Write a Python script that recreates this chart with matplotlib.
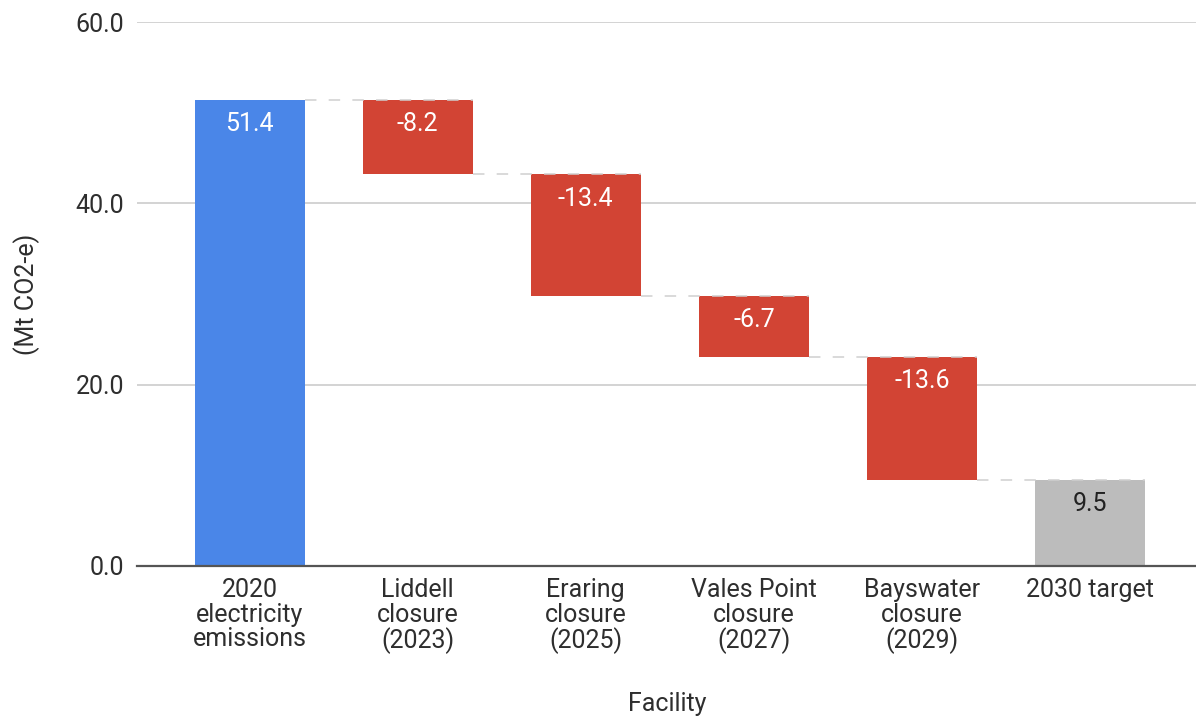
import numpy as np
import matplotlib
matplotlib.use("Agg")
from matplotlib import pyplot as plt

# data
categories = [
    "2020\nelectricity\nemissions",
    "Liddell\nclosure\n(2023)",
    "Eraring\nclosure\n(2025)",
    "Vales Point\nclosure\n(2027)",
    "Bayswater\nclosure\n(2029)",
    "2030 target",
]
start_value = 51.4
changes = [-8.2, -13.4, -6.7, -13.6]
target_value = 9.5

plt.rcParams["font.family"] = ["Roboto", "DejaVu Sans"]

BLUE = "#4a86e8"
RED = "#d24434"
GREY = "#bcbcbc"
TEXT = "#2e2e2e"

# running totals for the floating bars
levels = np.concatenate([[start_value], start_value + np.cumsum(changes)])
bottoms = [0] + list(levels[1:]) + [0]
heights = [start_value] + [-c for c in changes] + [target_value]
tops = [start_value] + list(levels[:-1]) + [target_value]
colors = [BLUE] + [RED] * len(changes) + [GREY]
labels = [f"{start_value:.1f}"] + [f"{c:.1f}" for c in changes] + [f"{target_value:.1f}"]
label_colors = ["white"] * (1 + len(changes)) + ["#222222"]

fig = plt.figure(figsize=(11.96, 7.19), dpi=100)
ax = fig.add_axes([0.1145, 0.2128, 0.8855, 0.7566])

x = np.arange(len(categories))
width = 0.655
ax.bar(x, heights, width, bottom=bottoms, color=colors, zorder=2)

# dashed connectors between bars
for i in range(len(categories) - 1):
    ax.plot([x[i] + width / 2, x[i + 1] + width / 2], [levels[min(i, len(levels) - 1)]] * 2,
            color="#cfcfcf", lw=1.1, dashes=(7.5, 8), zorder=3)

for xi, top, lab, lc in zip(x, tops, labels, label_colors):
    ax.annotate(lab, (xi, top), xytext=(0, -9), textcoords="offset points",
                ha="center", va="top", color=lc, fontsize=18, zorder=4)

ax.set_xlim(-0.67, 5.63)
ax.set_ylim(0, 60)
ax.set_yticks([0, 20, 40, 60])
ax.set_yticklabels([f"{v:.1f}" for v in [0, 20, 40, 60]])
ax.set_xticks(x)
ax.set_xticklabels(categories, linespacing=1.02)
ax.tick_params(axis="both", length=0, labelsize=18, colors=TEXT)
ax.tick_params(axis="y", pad=9)
ax.tick_params(axis="x", pad=9)
ax.grid(axis="y", color="#cccccc", lw=1.2, zorder=0)
ax.set_axisbelow(True)
for side in ["left", "right", "top"]:
    ax.spines[side].set_visible(False)
ax.spines["bottom"].set_color("#555555")
ax.spines["bottom"].set_linewidth(1.6)
ax.spines["bottom"].set_zorder(5)

# axis titles placed in figure coordinates
fig.text(0.0226, 0.59, "(Mt CO2-e)", rotation=90, ha="center", va="center",
         fontsize=18, color=TEXT)
fig.text(0.558, 0.021, "Facility", ha="center", va="center", fontsize=18, color=TEXT)

fig.savefig("out.png", dpi=100)
